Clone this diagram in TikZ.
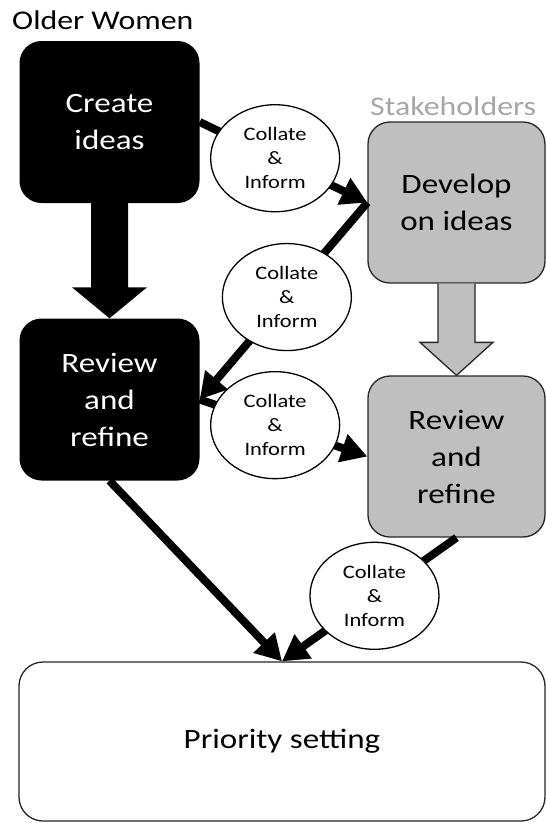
\documentclass[tikz,border=0pt]{standalone}
\usepackage{fontspec}
\setmainfont{Carlito}[FakeStretch=1.18]
\usetikzlibrary{arrows.meta,shapes.geometric,calc}
\definecolor{boxgray}{RGB}{191,191,191}
\definecolor{labgray}{RGB}{166,166,166}
\definecolor{edgegray}{RGB}{38,38,38}
\begin{document}
\begin{tikzpicture}[x=1pt,y=-1pt,
  boxtext/.style={font=\fontsize{28}{37}\selectfont},
  blackbox/.style={rectangle,rounded corners=22pt,fill=black,text=white,
    minimum width=180pt,minimum height=162pt,align=center,inner sep=0pt,boxtext},
  graybox/.style={rectangle,rounded corners=22pt,fill=boxgray,draw=edgegray,line width=1.3pt,
    minimum width=177pt,minimum height=161pt,align=center,inner sep=0pt,boxtext},
  whitebox/.style={rectangle,rounded corners=24pt,fill=white,draw=edgegray,line width=1.3pt,
    minimum width=526pt,minimum height=159pt,align=center,inner sep=0pt,boxtext},
  bubble/.style={ellipse,draw=black,fill=white,line width=1.3pt,minimum width=129pt,
    minimum height=107pt,inner sep=0pt,align=center,font=\fontsize{19}{24}\selectfont},
  conn/.style={line width=8pt,-{Triangle[length=26pt,width=28pt]}},
  title/.style={anchor=base west,inner sep=0pt,font=\fontsize{27}{32}\selectfont}
]
\useasboundingbox (0,0) rectangle (546,823);

\node[title] (ow) at (12,29) {Older Women};
\node[title,text=labgray] (sh) at (370,115) {Stakeholders};

\node[blackbox] (cr) at (109.5,122) {Create\\ideas};
\node[blackbox] (rv) at (109.5,399.5) {Review\\and\\refine};
\node[graybox] (dv) at (456.5,202.5) {Develop\\on ideas};
\node[graybox] (rv2) at (456.5,456.5) {Review\\and\\refine};
\node[whitebox] (ps) at (282,741.5) {Priority setting};

% block arrows
\fill[black] ($(cr.south)+(-18.5,0)$) -- ($(rv.north)+(-18.5,-31)$) -- ($(rv.north)+(-37.5,-31)$)
  -- (rv.north) -- ($(rv.north)+(37.5,-31)$) -- ($(rv.north)+(18.5,-31)$) -- ($(cr.south)+(18.5,0)$) -- cycle;
\filldraw[fill=boxgray,draw=edgegray,line width=1.3pt] ($(dv.south)+(-18.5,0)$) -- ($(rv2.north)+(-18.5,-33)$)
  -- ($(rv2.north)+(-36.5,-33)$) -- (rv2.north) -- ($(rv2.north)+(36.5,-33)$)
  -- ($(rv2.north)+(18.5,-33)$) -- ($(dv.south)+(18.5,0)$);

% connectors with collate bubbles
\draw[conn] (cr.east) -- node[bubble,pos=0.45] (e1) {Collate\\\&\\Inform} (dv.west);
\draw[conn] (dv.west) -- node[bubble,pos=0.48] (e2) {Collate\\\&\\Inform} (rv.east);
\draw[conn] (rv.east) -- node[bubble,pos=0.45] (e3) {Collate\\\&\\Inform} (rv2.west);
\draw[conn] (rv.south) -- (ps.north);
\draw[conn] (rv2.south) -- node[bubble,pos=0.47] (e4) {Collate\\\&\\Inform} (ps.north);
\end{tikzpicture}
\end{document}
